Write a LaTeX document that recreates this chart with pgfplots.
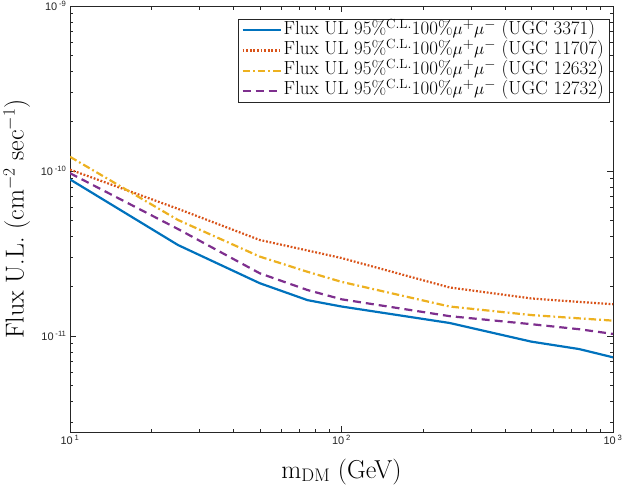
\documentclass[border=0pt]{standalone}
\usepackage{pgfplots}
\pgfplotsset{compat=1.18}
\usepackage{fontspec}
\newfontfamily\tickfont{Liberation Sans}
\definecolor{mblue}{rgb}{0,0.447,0.741}
\definecolor{mred}{rgb}{0.850,0.325,0.098}
\definecolor{myellow}{rgb}{0.929,0.694,0.125}
\definecolor{mpurple}{rgb}{0.494,0.184,0.556}
\definecolor{axisgray}{rgb}{0.15,0.15,0.15}
\begin{document}
\begin{tikzpicture}
\begin{axis}[
  at={(70bp,57bp)}, anchor=south west,
  scale only axis, width=543bp, height=426bp,
  xmode=log, ymode=log,
  xmin=10, xmax=1000, ymin=2.62e-12, ymax=1e-9,
  xtick={10,100,1000},
  xticklabels={10\,\textsuperscript{1},10\,\textsuperscript{2},10\,\textsuperscript{3}},
  ytick={1e-11,1e-10,1e-9},
  yticklabels={10\,\textsuperscript{-11},10\,\textsuperscript{-10},10\,\textsuperscript{-9}},
  minor xtick={20,30,40,50,60,70,80,90,200,300,400,500,600,700,800,900},
  minor ytick={3e-12,4e-12,5e-12,6e-12,7e-12,8e-12,9e-12,2e-11,3e-11,4e-11,5e-11,6e-11,7e-11,8e-11,9e-11,2e-10,3e-10,4e-10,5e-10,6e-10,7e-10,8e-10,9e-10},
  tick align=inside,
  axis line style={draw=axisgray, line width=0.6bp},
  every tick/.style={axisgray, line width=0.5bp},
  major tick length=6bp, minor tick length=3.5bp,
  tick label style={font=\tickfont\fontsize{11}{13}\selectfont, text=axisgray},
  xlabel={m$_{\mathrm{DM}}$ (GeV)},
  ylabel={Flux U.L. (cm$^{-2}$ sec$^{-1}$)},
  label style={font=\fontsize{26}{30}\selectfont},
  xlabel style={at={(axis description cs:0.5,0)}, anchor=base, yshift=-46bp},
  ylabel style={at={([xshift=-36.5bp]axis description cs:0,0.5)}, anchor=south},
  legend style={at={(1,1)}, anchor=north east, xshift=-4bp, yshift=-13bp,
    draw=axisgray, line width=0.5bp, font=\fontsize{19}{21}\selectfont,
    inner xsep=3bp, inner ysep=1bp, row sep=0bp,
    nodes={text height=12.5bp, text depth=4.5bp, inner ysep=1.6bp}},
  legend cell align=left,
  legend image code/.code={\draw[#1] (0bp,0bp) -- (38bp,0bp);},
]
\addplot[mblue, line width=2.2bp] coordinates {(10,8.9e-11) (25,3.56e-11) (50,2.09e-11) (75,1.65e-11) (100,1.51e-11) (250,1.2e-11) (500,9.25e-12) (750,8.34e-12) (1000,7.43e-12)};
\addlegendentry{Flux UL 95\%$^{\mathrm{C.L.}}$100\%$\mu^{+}\mu^{-}$ (UGC 3371)}
\addplot[mred, line width=2.2bp, dash pattern=on 1.8bp off 1.8bp] coordinates {(10,1.02e-10) (25,5.9e-11) (50,3.82e-11) (75,3.3e-11) (100,2.97e-11) (250,1.97e-11) (500,1.69e-11) (750,1.61e-11) (1000,1.56e-11)};
\addlegendentry{Flux UL 95\%$^{\mathrm{C.L.}}$100\%$\mu^{+}\mu^{-}$ (UGC 11707)}
\addplot[myellow, line width=2.2bp, dash pattern=on 7.5bp off 3bp on 1.8bp off 3bp] coordinates {(10,1.22e-10) (25,5.05e-11) (50,3.03e-11) (75,2.45e-11) (100,2.13e-11) (250,1.51e-11) (500,1.34e-11) (750,1.28e-11) (1000,1.24e-11)};
\addlegendentry{Flux UL 95\%$^{\mathrm{C.L.}}$100\%$\mu^{+}\mu^{-}$ (UGC 12632)}
\addplot[mpurple, line width=2.2bp, dash pattern=on 8bp off 5bp] coordinates {(10,9.7e-11) (25,4.45e-11) (50,2.4e-11) (75,1.9e-11) (100,1.67e-11) (250,1.32e-11) (500,1.18e-11) (750,1.10e-11) (1000,1.03e-11)};
\addlegendentry{Flux UL 95\%$^{\mathrm{C.L.}}$100\%$\mu^{+}\mu^{-}$ (UGC 12732)}
\end{axis}
\pgfresetboundingbox
\useasboundingbox (0,0) rectangle (623bp,489bp);
\end{tikzpicture}
\end{document}
